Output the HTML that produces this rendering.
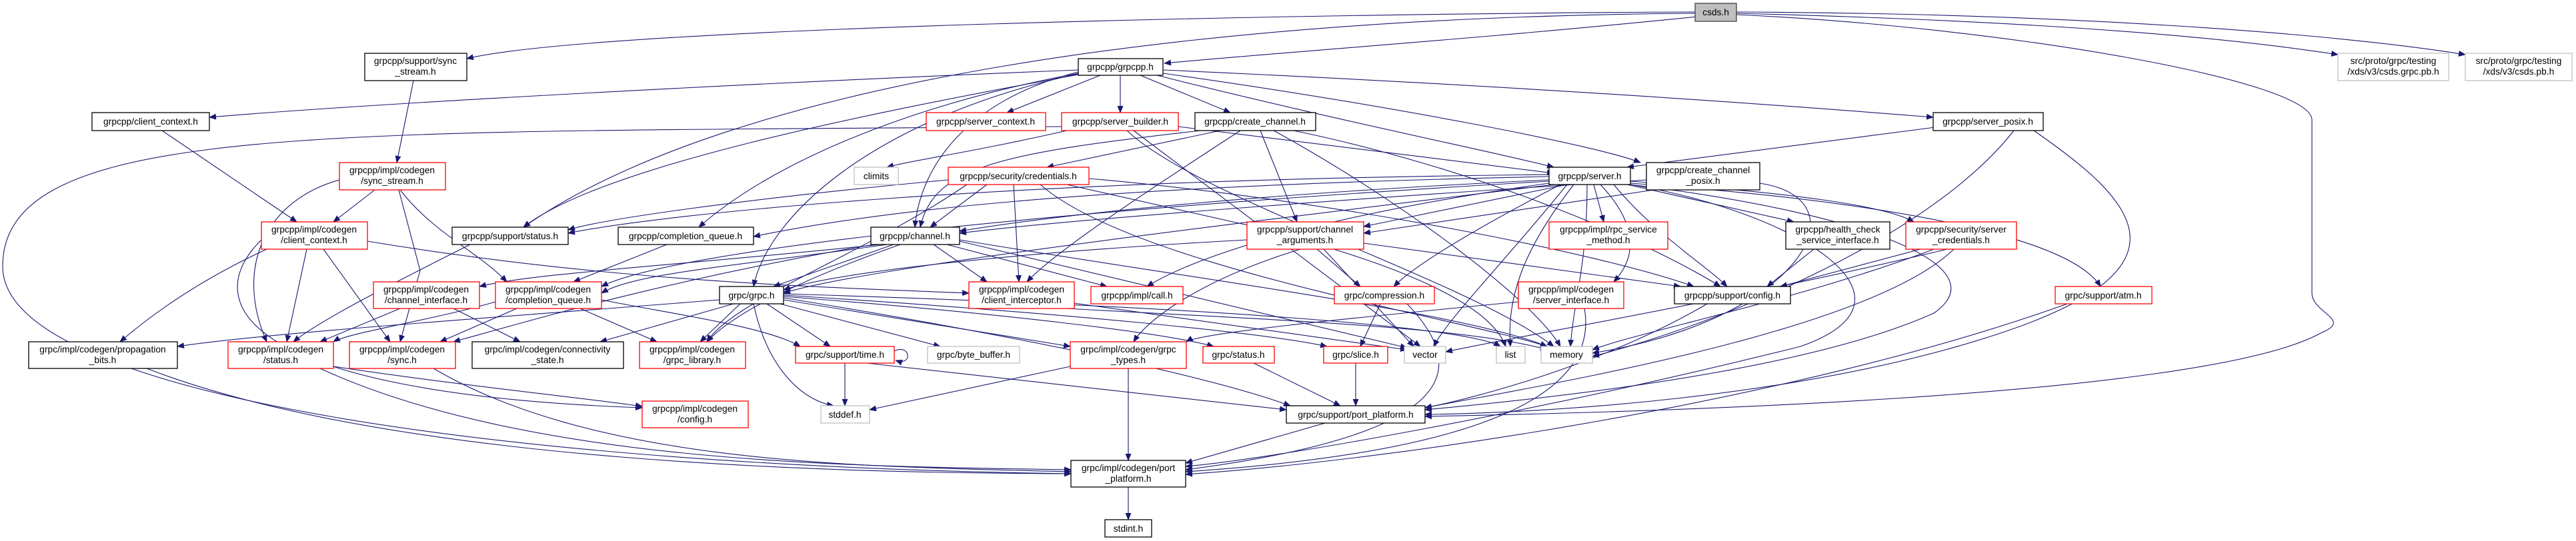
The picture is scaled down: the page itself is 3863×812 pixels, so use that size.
<!DOCTYPE html>
<html><head><meta charset="utf-8"><style>
html,body{margin:0;padding:0;background:#fff;}
svg{display:block;}
text{font-family:"Liberation Sans",sans-serif;font-size:13.8px;fill:#000;text-anchor:middle;}
.e{fill:none;stroke:#191970;stroke-width:1.1;marker-end:url(#ah);}
.k{fill:#fff;stroke:#000;stroke-width:1.3;}
.r{fill:#fff;stroke:#ff0000;stroke-width:1.3;}
.g{fill:#fff;stroke:#bfbfbf;stroke-width:1.3;}
</style></head><body>
<svg width="3863" height="812" viewBox="0 0 3863 812" xmlns="http://www.w3.org/2000/svg">
<defs><marker id="ah" markerWidth="11" markerHeight="9" refX="10" refY="4.5" orient="auto" markerUnits="userSpaceOnUse"><path d="M0,0 L11,4.5 L0,9 z" fill="#191970"/></marker></defs>
<g>
<path class="e" d="M2542,18 C2000,20 900,40 700,88"/>
<path class="e" d="M2545,25 C2200,60 1900,80 1746,95"/>
<path class="e" d="M2604,20 C3000,30 3300,50 3506,82"/>
<path class="e" d="M2604,18 C3100,20 3500,50 3697,82"/>
<path class="e" d="M2542,20 C1800,25 1100,120 785,341"/>
<path class="e" d="M2604,22 C3000,40 3467,120 3467,180 L3467,440 C3467,470 3530,480 3480,500 C3300,600 2400,620 2137,625"/>
<path class="e" d="M1617,105 C1000,130 500,160 314,176"/>
<path class="e" d="M1650,113 L1510,169"/>
<path class="e" d="M1680,113 L1680,169"/>
<path class="e" d="M1710,113 L1845,169"/>
<path class="e" d="M1735,113 C2000,180 2250,230 2330,251"/>
<path class="e" d="M1744,110 C2100,160 2400,220 2460,244"/>
<path class="e" d="M1744,105 C2300,130 2700,160 2899,176"/>
<path class="e" d="M1617,108 C1450,150 1380,250 1372,341"/>
<path class="e" d="M1617,110 C1350,160 1150,250 1048,341"/>
<path class="e" d="M1617,112 C1300,170 900,250 785,341"/>
<path class="e" d="M1620,110 C1300,180 1150,330 1130,430"/>
<path class="e" d="M620,121 L595,244"/>
<path class="e" d="M243,196 L445,333"/>
<path class="e" d="M562,285 L500,333"/>
<path class="e" d="M509,270 C400,300 350,400 400,513"/>
<path class="e" d="M600,285 C650,350 720,380 760,423"/>
<path class="e" d="M598,285 L630,406 L600,513"/>
<path class="e" d="M400,374 C300,420 230,470 180,513"/>
<path class="e" d="M460,374 L430,513"/>
<path class="e" d="M485,374 L585,513"/>
<path class="e" d="M392,360 C300,450 350,590 963,612"/>
<path class="e" d="M551,362 C900,420 1200,430 1453,440"/>
<path class="e" d="M705,367 C600,420 480,480 440,513"/>
<path class="e" d="M1000,367 L860,423"/>
<path class="e" d="M1600,196 C1450,230 1370,240 1330,251"/>
<path class="e" d="M1767,190 L2330,260"/>
<path class="e" d="M1690,196 C1800,300 2200,420 2330,520"/>
<path class="e" d="M1700,196 L2130,520"/>
<path class="e" d="M1592,190 C500,200 4,180 4,400 C4,600 800,700 1606,711"/>
<path class="e" d="M1830,196 L1570,251"/>
<path class="e" d="M1800,196 C1500,230 1400,250 1380,341"/>
<path class="e" d="M1890,196 L1945,333"/>
<path class="e" d="M1860,196 C1700,300 1580,380 1540,423"/>
<path class="e" d="M1910,196 C2100,300 2300,450 2340,520"/>
<path class="e" d="M1940,196 C2200,250 2450,350 2580,430"/>
<path class="e" d="M1480,277 L1395,341"/>
<path class="e" d="M1422,270 C1100,300 900,330 852,345"/>
<path class="e" d="M1600,277 L1880,340"/>
<path class="e" d="M1450,277 C1300,380 1100,450 1060,513"/>
<path class="e" d="M1520,277 L1528,423"/>
<path class="e" d="M1560,277 C1700,400 2200,480 2320,520"/>
<path class="e" d="M1633,268 C2000,300 2400,380 2540,430"/>
<path class="e" d="M2323,262 C1500,270 1000,320 852,350"/>
<path class="e" d="M2323,265 C1600,280 1300,320 1130,355"/>
<path class="e" d="M2323,270 C1900,290 1600,320 1439,347"/>
<path class="e" d="M2350,277 L2045,340"/>
<path class="e" d="M2390,277 L2405,333"/>
<path class="e" d="M2440,277 L2690,333"/>
<path class="e" d="M2445,272 C2700,290 2830,310 2870,333"/>
<path class="e" d="M2420,277 C2480,350 2560,400 2590,430"/>
<path class="e" d="M2323,275 C2000,320 1800,380 1720,430"/>
<path class="e" d="M2340,277 C2200,350 2120,400 2090,430"/>
<path class="e" d="M2400,277 C2450,330 2460,380 2420,423"/>
<path class="e" d="M2323,272 C1500,320 1000,380 902,430"/>
<path class="e" d="M2330,277 C1900,330 1300,400 1175,440"/>
<path class="e" d="M2360,277 C2280,380 2260,450 2265,520"/>
<path class="e" d="M2380,277 C2380,400 2360,450 2355,520"/>
<path class="e" d="M2350,277 C2250,400 2170,480 2150,520"/>
<path class="e" d="M2445,275 C2800,300 3100,350 3150,430"/>
<path class="e" d="M2445,277 C2800,320 3000,400 2900,470 C2700,560 2300,600 2137,615"/>
<path class="e" d="M2445,277 C2700,320 2900,450 2700,520 C2300,620 1900,690 1778,700"/>
<path class="e" d="M2469,270 C2000,300 1600,330 1439,350"/>
<path class="e" d="M2480,285 L2045,350"/>
<path class="e" d="M2639,275 C2800,300 2700,480 2388,530"/>
<path class="e" d="M2910,190 L2440,251"/>
<path class="e" d="M3020,196 C2900,350 2600,480 2388,535"/>
<path class="e" d="M3050,196 C3200,300 3300,400 3000,500 C2700,600 2300,620 2137,622"/>
<path class="e" d="M1320,367 C1000,400 800,410 719,430"/>
<path class="e" d="M1330,367 C1100,400 950,410 902,440"/>
<path class="e" d="M1340,367 L1160,430"/>
<path class="e" d="M1400,367 L1480,423"/>
<path class="e" d="M1420,367 L1660,430"/>
<path class="e" d="M1439,360 C1800,420 2200,470 2320,520"/>
<path class="e" d="M1439,362 L2110,522"/>
<path class="e" d="M1350,367 C1200,420 1100,470 1060,513"/>
<path class="e" d="M1310,367 C1000,420 800,480 680,513"/>
<path class="e" d="M1870,360 C1500,380 1250,410 1175,435"/>
<path class="e" d="M1975,374 L2040,430"/>
<path class="e" d="M2000,374 C2150,420 2240,470 2258,520"/>
<path class="e" d="M1985,374 L2120,520"/>
<path class="e" d="M1950,374 C1800,420 1720,480 1700,513"/>
<path class="e" d="M2045,365 L2520,430"/>
<path class="e" d="M2720,374 L2650,430"/>
<path class="e" d="M2880,374 L2670,430"/>
<path class="e" d="M2900,374 C2700,450 2450,500 2388,525"/>
<path class="e" d="M2920,374 C2600,450 2300,500 2168,528"/>
<path class="e" d="M2930,374 C2800,500 2300,580 2137,612"/>
<path class="e" d="M600,463 L480,513"/>
<path class="e" d="M680,463 L780,513"/>
<path class="e" d="M743,453 C650,480 520,500 500,513"/>
<path class="e" d="M775,463 L660,513"/>
<path class="e" d="M870,463 L985,513"/>
<path class="e" d="M902,450 C1000,470 1150,490 1200,520"/>
<path class="e" d="M1079,450 C700,480 400,500 266,520"/>
<path class="e" d="M1100,456 L900,513"/>
<path class="e" d="M1110,456 L1050,513"/>
<path class="e" d="M1150,456 L1245,520"/>
<path class="e" d="M1130,456 C1150,550 1200,600 1250,609"/>
<path class="e" d="M1170,456 L1410,520"/>
<path class="e" d="M1175,450 L1605,520"/>
<path class="e" d="M1175,445 C1500,470 1750,500 1820,520"/>
<path class="e" d="M1175,443 C1600,470 1900,500 1990,520"/>
<path class="e" d="M1175,441 C1800,460 2200,490 2250,520"/>
<path class="e" d="M1175,447 C1500,500 1800,560 1935,609"/>
<path class="e" d="M1267,545 L1267,609"/>
<path class="e" d="M1300,545 L1929,615"/>
<path class="e" d="M1341,527 C1365,515 1370,550 1343,541"/>
<path class="e" d="M1605,550 L1304,615"/>
<path class="e" d="M1692,553 L1692,691"/>
<path class="e" d="M1880,545 L2010,609"/>
<path class="e" d="M2033,545 L2033,609"/>
<path class="e" d="M1987,635 L1778,695"/>
<path class="e" d="M2070,456 L2040,520"/>
<path class="e" d="M2110,456 C2200,550 2200,650 1778,705"/>
<path class="e" d="M2376,463 C2400,600 2200,680 1778,708"/>
<path class="e" d="M2277,453 C2000,480 1800,500 1779,513"/>
<path class="e" d="M2560,456 C2400,550 2200,600 2137,612"/>
<path class="e" d="M3100,456 C2700,600 2100,690 1778,712"/>
<path class="e" d="M500,550 C700,580 900,600 963,610"/>
<path class="e" d="M480,553 C800,700 1300,700 1606,705"/>
<path class="e" d="M650,553 C900,700 1300,700 1606,708"/>
<path class="e" d="M220,553 C600,700 1300,710 1606,711"/>
<path class="e" d="M1692,731 L1692,780"/>
<path class="e" d="M1600,463 C1900,480 2200,490 2320,525"/>
<path class="e" d="M1611,455 L2110,525"/>
</g>
<g>
<rect x="2542" y="5" width="62" height="27" fill="#bfbfbf" stroke="#404040" stroke-width="1.3"/><text x="2573" y="23">csds.h</text>
<rect class="k" x="547" y="80" width="153" height="41"/><text x="623" y="96">grpcpp/support/sync</text><text x="623" y="112">_stream.h</text>
<rect class="k" x="1617" y="88" width="127" height="25"/><text x="1680" y="105">grpcpp/grpcpp.h</text>
<rect class="g" x="3506" y="80" width="166" height="41"/><text x="3589" y="96">src/proto/grpc/testing</text><text x="3589" y="112">/xds/v3/csds.grpc.pb.h</text>
<rect class="g" x="3697" y="80" width="160" height="41"/><text x="3777" y="96">src/proto/grpc/testing</text><text x="3777" y="112">/xds/v3/csds.pb.h</text>
<rect class="k" x="138" y="169" width="176" height="27"/><text x="226" y="187">grpcpp/client_context.h</text>
<rect class="r" x="1389" y="169" width="179" height="27"/><text x="1478" y="187">grpcpp/server_context.h</text>
<rect class="r" x="1592" y="169" width="175" height="27"/><text x="1680" y="187">grpcpp/server_builder.h</text>
<rect class="k" x="1792" y="169" width="181" height="27"/><text x="1882" y="187">grpcpp/create_channel.h</text>
<rect class="k" x="2899" y="169" width="165" height="27"/><text x="2981" y="187">grpcpp/server_posix.h</text>
<rect class="r" x="509" y="244" width="159" height="41"/><text x="588" y="260">grpcpp/impl/codegen</text><text x="588" y="276">/sync_stream.h</text>
<rect class="g" x="1281" y="251" width="66" height="26"/><text x="1314" y="269">climits</text>
<rect class="r" x="1422" y="251" width="211" height="26"/><text x="1527" y="269">grpcpp/security/credentials.h</text>
<rect class="k" x="2323" y="251" width="122" height="26"/><text x="2384" y="269">grpcpp/server.h</text>
<rect class="k" x="2469" y="244" width="170" height="41"/><text x="2554" y="260">grpcpp/create_channel</text><text x="2554" y="276">_posix.h</text>
<rect class="r" x="392" y="333" width="159" height="41"/><text x="471" y="349">grpcpp/impl/codegen</text><text x="471" y="365">/client_context.h</text>
<rect class="k" x="678" y="341" width="174" height="26"/><text x="765" y="359">grpcpp/support/status.h</text>
<rect class="k" x="927" y="341" width="203" height="26"/><text x="1028" y="359">grpcpp/completion_queue.h</text>
<rect class="k" x="1306" y="341" width="133" height="26"/><text x="1372" y="359">grpcpp/channel.h</text>
<rect class="r" x="1870" y="333" width="175" height="41"/><text x="1957" y="349">grpcpp/support/channel</text><text x="1957" y="365">_arguments.h</text>
<rect class="r" x="2323" y="333" width="178" height="41"/><text x="2412" y="349">grpcpp/impl/rpc_service</text><text x="2412" y="365">_method.h</text>
<rect class="k" x="2678" y="333" width="156" height="41"/><text x="2756" y="349">grpcpp/health_check</text><text x="2756" y="365">_service_interface.h</text>
<rect class="r" x="2858" y="333" width="166" height="41"/><text x="2941" y="349">grpcpp/security/server</text><text x="2941" y="365">_credentials.h</text>
<rect class="r" x="560" y="423" width="159" height="40"/><text x="639" y="439">grpcpp/impl/codegen</text><text x="639" y="455">/channel_interface.h</text>
<rect class="r" x="743" y="423" width="159" height="40"/><text x="822" y="439">grpcpp/impl/codegen</text><text x="822" y="455">/completion_queue.h</text>
<rect class="k" x="1079" y="430" width="96" height="26"/><text x="1127" y="448">grpc/grpc.h</text>
<rect class="r" x="1453" y="423" width="158" height="40"/><text x="1532" y="439">grpcpp/impl/codegen</text><text x="1532" y="455">/client_interceptor.h</text>
<rect class="r" x="1636" y="430" width="138" height="26"/><text x="1705" y="448">grpcpp/impl/call.h</text>
<rect class="r" x="2001" y="430" width="150" height="26"/><text x="2076" y="448">grpc/compression.h</text>
<rect class="r" x="2277" y="423" width="158" height="40"/><text x="2356" y="439">grpcpp/impl/codegen</text><text x="2356" y="455">/server_interface.h</text>
<rect class="k" x="2511" y="430" width="174" height="26"/><text x="2598" y="448">grpcpp/support/config.h</text>
<rect class="r" x="3082" y="430" width="145" height="26"/><text x="3154" y="448">grpc/support/atm.h</text>
<rect class="k" x="43" y="513" width="223" height="40"/><text x="154" y="529">grpc/impl/codegen/propagation</text><text x="154" y="545">_bits.h</text>
<rect class="r" x="342" y="513" width="158" height="40"/><text x="421" y="529">grpcpp/impl/codegen</text><text x="421" y="545">/status.h</text>
<rect class="r" x="524" y="513" width="159" height="40"/><text x="603" y="529">grpcpp/impl/codegen</text><text x="603" y="545">/sync.h</text>
<rect class="k" x="708" y="513" width="227" height="40"/><text x="821" y="529">grpc/impl/codegen/connectivity</text><text x="821" y="545">_state.h</text>
<rect class="r" x="959" y="513" width="159" height="40"/><text x="1038" y="529">grpcpp/impl/codegen</text><text x="1038" y="545">/grpc_library.h</text>
<rect class="r" x="1193" y="520" width="148" height="25"/><text x="1267" y="537">grpc/support/time.h</text>
<rect class="g" x="1391" y="520" width="138" height="25"/><text x="1460" y="537">grpc/byte_buffer.h</text>
<rect class="r" x="1605" y="513" width="174" height="40"/><text x="1692" y="529">grpc/impl/codegen/grpc</text><text x="1692" y="545">_types.h</text>
<rect class="r" x="1804" y="520" width="107" height="25"/><text x="1857" y="537">grpc/status.h</text>
<rect class="r" x="1985" y="520" width="96" height="25"/><text x="2033" y="537">grpc/slice.h</text>
<rect class="g" x="2106" y="520" width="62" height="25"/><text x="2137" y="537">vector</text>
<rect class="g" x="2244" y="520" width="43" height="25"/><text x="2265" y="537">list</text>
<rect class="g" x="2311" y="520" width="77" height="25"/><text x="2349" y="537">memory</text>
<rect class="r" x="963" y="602" width="159" height="40"/><text x="1042" y="618">grpcpp/impl/codegen</text><text x="1042" y="634">/config.h</text>
<rect class="g" x="1231" y="609" width="73" height="26"/><text x="1267" y="627">stddef.h</text>
<rect class="k" x="1929" y="609" width="208" height="26"/><text x="2033" y="627">grpc/support/port_platform.h</text>
<rect class="k" x="1606" y="691" width="172" height="40"/><text x="1692" y="707">grpc/impl/codegen/port</text><text x="1692" y="723">_platform.h</text>
<rect class="k" x="1657" y="780" width="70" height="26"/><text x="1692" y="798">stdint.h</text>
</g>
</svg>
</body></html>
